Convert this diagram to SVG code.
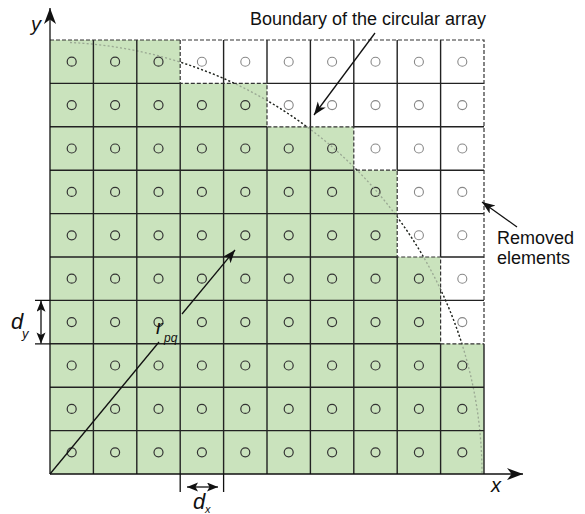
<svg xmlns="http://www.w3.org/2000/svg" width="585" height="514" viewBox="0 0 585 514">
<style>
.g rect{fill:#cae3bd;stroke:none}
.w rect{fill:#ffffff;stroke:none}
.g circle{fill:none;stroke:#333;stroke-width:1.2}
.w circle{fill:none;stroke:#888;stroke-width:1.1}
.grid{fill:none;stroke:#222;stroke-width:1.4}
.dash{fill:none;stroke:#333;stroke-width:1.2;stroke-dasharray:4 2}
.arc{fill:none;stroke-width:1.3;stroke-dasharray:2 2.2}
.ln{fill:none;stroke:#111;stroke-width:1.3}
.t{font-family:"Liberation Sans",Arial,sans-serif;fill:#111}
.i{font-family:"Liberation Sans",Arial,sans-serif;font-style:italic;fill:#111}
</style>
<defs>
<marker id="ah" markerUnits="userSpaceOnUse" markerWidth="17" markerHeight="13" refX="16" refY="6" orient="auto"><path d="M0,0 L16,6 L0,12 L4.5,6 Z" fill="#111"/></marker>
<marker id="ah2" markerUnits="userSpaceOnUse" markerWidth="14" markerHeight="11" refX="13" refY="5" orient="auto"><path d="M0,0 L13,5 L0,10 L3.5,5 Z" fill="#111"/></marker>
<marker id="ah3" markerUnits="userSpaceOnUse" markerWidth="12" markerHeight="10" refX="11" refY="4.5" orient="auto-start-reverse"><path d="M0,0 L11,4.5 L0,9 L2.5,4.5 Z" fill="#111"/></marker>
<clipPath id="wclip"><path d="M180.2,40 H484 V343.8 H440.6 V257 H397.2 V170.2 H353.8 V126.8 H267 V83.4 H180.2 Z"/></clipPath>
</defs>

<g id="cells">
<g id="c0-0" class="g"><rect x="50" y="40" width="43.4" height="43.4"/><circle cx="71.7" cy="61.7" r="4.5"/></g>
<g id="c0-1" class="g"><rect x="93.4" y="40" width="43.4" height="43.4"/><circle cx="115.1" cy="61.7" r="4.5"/></g>
<g id="c0-2" class="g"><rect x="136.8" y="40" width="43.4" height="43.4"/><circle cx="158.5" cy="61.7" r="4.5"/></g>
<g id="c0-3" class="w"><rect x="180.2" y="40" width="43.4" height="43.4"/><circle cx="201.9" cy="61.7" r="4.5"/></g>
<g id="c0-4" class="w"><rect x="223.6" y="40" width="43.4" height="43.4"/><circle cx="245.3" cy="61.7" r="4.5"/></g>
<g id="c0-5" class="w"><rect x="267" y="40" width="43.4" height="43.4"/><circle cx="288.7" cy="61.7" r="4.5"/></g>
<g id="c0-6" class="w"><rect x="310.4" y="40" width="43.4" height="43.4"/><circle cx="332.1" cy="61.7" r="4.5"/></g>
<g id="c0-7" class="w"><rect x="353.8" y="40" width="43.4" height="43.4"/><circle cx="375.5" cy="61.7" r="4.5"/></g>
<g id="c0-8" class="w"><rect x="397.2" y="40" width="43.4" height="43.4"/><circle cx="418.9" cy="61.7" r="4.5"/></g>
<g id="c0-9" class="w"><rect x="440.6" y="40" width="43.4" height="43.4"/><circle cx="462.3" cy="61.7" r="4.5"/></g>

<g id="c1-0" class="g"><rect x="50" y="83.4" width="43.4" height="43.4"/><circle cx="71.7" cy="105.1" r="4.5"/></g>
<g id="c1-1" class="g"><rect x="93.4" y="83.4" width="43.4" height="43.4"/><circle cx="115.1" cy="105.1" r="4.5"/></g>
<g id="c1-2" class="g"><rect x="136.8" y="83.4" width="43.4" height="43.4"/><circle cx="158.5" cy="105.1" r="4.5"/></g>
<g id="c1-3" class="g"><rect x="180.2" y="83.4" width="43.4" height="43.4"/><circle cx="201.9" cy="105.1" r="4.5"/></g>
<g id="c1-4" class="g"><rect x="223.6" y="83.4" width="43.4" height="43.4"/><circle cx="245.3" cy="105.1" r="4.5"/></g>
<g id="c1-5" class="w"><rect x="267" y="83.4" width="43.4" height="43.4"/><circle cx="288.7" cy="105.1" r="4.5"/></g>
<g id="c1-6" class="w"><rect x="310.4" y="83.4" width="43.4" height="43.4"/><circle cx="332.1" cy="105.1" r="4.5"/></g>
<g id="c1-7" class="w"><rect x="353.8" y="83.4" width="43.4" height="43.4"/><circle cx="375.5" cy="105.1" r="4.5"/></g>
<g id="c1-8" class="w"><rect x="397.2" y="83.4" width="43.4" height="43.4"/><circle cx="418.9" cy="105.1" r="4.5"/></g>
<g id="c1-9" class="w"><rect x="440.6" y="83.4" width="43.4" height="43.4"/><circle cx="462.3" cy="105.1" r="4.5"/></g>

<g id="c2-0" class="g"><rect x="50" y="126.8" width="43.4" height="43.4"/><circle cx="71.7" cy="148.5" r="4.5"/></g>
<g id="c2-1" class="g"><rect x="93.4" y="126.8" width="43.4" height="43.4"/><circle cx="115.1" cy="148.5" r="4.5"/></g>
<g id="c2-2" class="g"><rect x="136.8" y="126.8" width="43.4" height="43.4"/><circle cx="158.5" cy="148.5" r="4.5"/></g>
<g id="c2-3" class="g"><rect x="180.2" y="126.8" width="43.4" height="43.4"/><circle cx="201.9" cy="148.5" r="4.5"/></g>
<g id="c2-4" class="g"><rect x="223.6" y="126.8" width="43.4" height="43.4"/><circle cx="245.3" cy="148.5" r="4.5"/></g>
<g id="c2-5" class="g"><rect x="267" y="126.8" width="43.4" height="43.4"/><circle cx="288.7" cy="148.5" r="4.5"/></g>
<g id="c2-6" class="g"><rect x="310.4" y="126.8" width="43.4" height="43.4"/><circle cx="332.1" cy="148.5" r="4.5"/></g>
<g id="c2-7" class="w"><rect x="353.8" y="126.8" width="43.4" height="43.4"/><circle cx="375.5" cy="148.5" r="4.5"/></g>
<g id="c2-8" class="w"><rect x="397.2" y="126.8" width="43.4" height="43.4"/><circle cx="418.9" cy="148.5" r="4.5"/></g>
<g id="c2-9" class="w"><rect x="440.6" y="126.8" width="43.4" height="43.4"/><circle cx="462.3" cy="148.5" r="4.5"/></g>

<g id="c3-0" class="g"><rect x="50" y="170.2" width="43.4" height="43.4"/><circle cx="71.7" cy="191.9" r="4.5"/></g>
<g id="c3-1" class="g"><rect x="93.4" y="170.2" width="43.4" height="43.4"/><circle cx="115.1" cy="191.9" r="4.5"/></g>
<g id="c3-2" class="g"><rect x="136.8" y="170.2" width="43.4" height="43.4"/><circle cx="158.5" cy="191.9" r="4.5"/></g>
<g id="c3-3" class="g"><rect x="180.2" y="170.2" width="43.4" height="43.4"/><circle cx="201.9" cy="191.9" r="4.5"/></g>
<g id="c3-4" class="g"><rect x="223.6" y="170.2" width="43.4" height="43.4"/><circle cx="245.3" cy="191.9" r="4.5"/></g>
<g id="c3-5" class="g"><rect x="267" y="170.2" width="43.4" height="43.4"/><circle cx="288.7" cy="191.9" r="4.5"/></g>
<g id="c3-6" class="g"><rect x="310.4" y="170.2" width="43.4" height="43.4"/><circle cx="332.1" cy="191.9" r="4.5"/></g>
<g id="c3-7" class="g"><rect x="353.8" y="170.2" width="43.4" height="43.4"/><circle cx="375.5" cy="191.9" r="4.5"/></g>
<g id="c3-8" class="w"><rect x="397.2" y="170.2" width="43.4" height="43.4"/><circle cx="418.9" cy="191.9" r="4.5"/></g>
<g id="c3-9" class="w"><rect x="440.6" y="170.2" width="43.4" height="43.4"/><circle cx="462.3" cy="191.9" r="4.5"/></g>

<g id="c4-0" class="g"><rect x="50" y="213.6" width="43.4" height="43.4"/><circle cx="71.7" cy="235.3" r="4.5"/></g>
<g id="c4-1" class="g"><rect x="93.4" y="213.6" width="43.4" height="43.4"/><circle cx="115.1" cy="235.3" r="4.5"/></g>
<g id="c4-2" class="g"><rect x="136.8" y="213.6" width="43.4" height="43.4"/><circle cx="158.5" cy="235.3" r="4.5"/></g>
<g id="c4-3" class="g"><rect x="180.2" y="213.6" width="43.4" height="43.4"/><circle cx="201.9" cy="235.3" r="4.5"/></g>
<g id="c4-4" class="g"><rect x="223.6" y="213.6" width="43.4" height="43.4"/><circle cx="245.3" cy="235.3" r="4.5"/></g>
<g id="c4-5" class="g"><rect x="267" y="213.6" width="43.4" height="43.4"/><circle cx="288.7" cy="235.3" r="4.5"/></g>
<g id="c4-6" class="g"><rect x="310.4" y="213.6" width="43.4" height="43.4"/><circle cx="332.1" cy="235.3" r="4.5"/></g>
<g id="c4-7" class="g"><rect x="353.8" y="213.6" width="43.4" height="43.4"/><circle cx="375.5" cy="235.3" r="4.5"/></g>
<g id="c4-8" class="w"><rect x="397.2" y="213.6" width="43.4" height="43.4"/><circle cx="418.9" cy="235.3" r="4.5"/></g>
<g id="c4-9" class="w"><rect x="440.6" y="213.6" width="43.4" height="43.4"/><circle cx="462.3" cy="235.3" r="4.5"/></g>

<g id="c5-0" class="g"><rect x="50" y="257" width="43.4" height="43.4"/><circle cx="71.7" cy="278.7" r="4.5"/></g>
<g id="c5-1" class="g"><rect x="93.4" y="257" width="43.4" height="43.4"/><circle cx="115.1" cy="278.7" r="4.5"/></g>
<g id="c5-2" class="g"><rect x="136.8" y="257" width="43.4" height="43.4"/><circle cx="158.5" cy="278.7" r="4.5"/></g>
<g id="c5-3" class="g"><rect x="180.2" y="257" width="43.4" height="43.4"/><circle cx="201.9" cy="278.7" r="4.5"/></g>
<g id="c5-4" class="g"><rect x="223.6" y="257" width="43.4" height="43.4"/><circle cx="245.3" cy="278.7" r="4.5"/></g>
<g id="c5-5" class="g"><rect x="267" y="257" width="43.4" height="43.4"/><circle cx="288.7" cy="278.7" r="4.5"/></g>
<g id="c5-6" class="g"><rect x="310.4" y="257" width="43.4" height="43.4"/><circle cx="332.1" cy="278.7" r="4.5"/></g>
<g id="c5-7" class="g"><rect x="353.8" y="257" width="43.4" height="43.4"/><circle cx="375.5" cy="278.7" r="4.5"/></g>
<g id="c5-8" class="g"><rect x="397.2" y="257" width="43.4" height="43.4"/><circle cx="418.9" cy="278.7" r="4.5"/></g>
<g id="c5-9" class="w"><rect x="440.6" y="257" width="43.4" height="43.4"/><circle cx="462.3" cy="278.7" r="4.5"/></g>

<g id="c6-0" class="g"><rect x="50" y="300.4" width="43.4" height="43.4"/><circle cx="71.7" cy="322.1" r="4.5"/></g>
<g id="c6-1" class="g"><rect x="93.4" y="300.4" width="43.4" height="43.4"/><circle cx="115.1" cy="322.1" r="4.5"/></g>
<g id="c6-2" class="g"><rect x="136.8" y="300.4" width="43.4" height="43.4"/><circle cx="158.5" cy="322.1" r="4.5"/></g>
<g id="c6-3" class="g"><rect x="180.2" y="300.4" width="43.4" height="43.4"/><circle cx="201.9" cy="322.1" r="4.5"/></g>
<g id="c6-4" class="g"><rect x="223.6" y="300.4" width="43.4" height="43.4"/><circle cx="245.3" cy="322.1" r="4.5"/></g>
<g id="c6-5" class="g"><rect x="267" y="300.4" width="43.4" height="43.4"/><circle cx="288.7" cy="322.1" r="4.5"/></g>
<g id="c6-6" class="g"><rect x="310.4" y="300.4" width="43.4" height="43.4"/><circle cx="332.1" cy="322.1" r="4.5"/></g>
<g id="c6-7" class="g"><rect x="353.8" y="300.4" width="43.4" height="43.4"/><circle cx="375.5" cy="322.1" r="4.5"/></g>
<g id="c6-8" class="g"><rect x="397.2" y="300.4" width="43.4" height="43.4"/><circle cx="418.9" cy="322.1" r="4.5"/></g>
<g id="c6-9" class="w"><rect x="440.6" y="300.4" width="43.4" height="43.4"/><circle cx="462.3" cy="322.1" r="4.5"/></g>

<g id="c7-0" class="g"><rect x="50" y="343.8" width="43.4" height="43.4"/><circle cx="71.7" cy="365.5" r="4.5"/></g>
<g id="c7-1" class="g"><rect x="93.4" y="343.8" width="43.4" height="43.4"/><circle cx="115.1" cy="365.5" r="4.5"/></g>
<g id="c7-2" class="g"><rect x="136.8" y="343.8" width="43.4" height="43.4"/><circle cx="158.5" cy="365.5" r="4.5"/></g>
<g id="c7-3" class="g"><rect x="180.2" y="343.8" width="43.4" height="43.4"/><circle cx="201.9" cy="365.5" r="4.5"/></g>
<g id="c7-4" class="g"><rect x="223.6" y="343.8" width="43.4" height="43.4"/><circle cx="245.3" cy="365.5" r="4.5"/></g>
<g id="c7-5" class="g"><rect x="267" y="343.8" width="43.4" height="43.4"/><circle cx="288.7" cy="365.5" r="4.5"/></g>
<g id="c7-6" class="g"><rect x="310.4" y="343.8" width="43.4" height="43.4"/><circle cx="332.1" cy="365.5" r="4.5"/></g>
<g id="c7-7" class="g"><rect x="353.8" y="343.8" width="43.4" height="43.4"/><circle cx="375.5" cy="365.5" r="4.5"/></g>
<g id="c7-8" class="g"><rect x="397.2" y="343.8" width="43.4" height="43.4"/><circle cx="418.9" cy="365.5" r="4.5"/></g>
<g id="c7-9" class="g"><rect x="440.6" y="343.8" width="43.4" height="43.4"/><circle cx="462.3" cy="365.5" r="4.5"/></g>

<g id="c8-0" class="g"><rect x="50" y="387.2" width="43.4" height="43.4"/><circle cx="71.7" cy="408.9" r="4.5"/></g>
<g id="c8-1" class="g"><rect x="93.4" y="387.2" width="43.4" height="43.4"/><circle cx="115.1" cy="408.9" r="4.5"/></g>
<g id="c8-2" class="g"><rect x="136.8" y="387.2" width="43.4" height="43.4"/><circle cx="158.5" cy="408.9" r="4.5"/></g>
<g id="c8-3" class="g"><rect x="180.2" y="387.2" width="43.4" height="43.4"/><circle cx="201.9" cy="408.9" r="4.5"/></g>
<g id="c8-4" class="g"><rect x="223.6" y="387.2" width="43.4" height="43.4"/><circle cx="245.3" cy="408.9" r="4.5"/></g>
<g id="c8-5" class="g"><rect x="267" y="387.2" width="43.4" height="43.4"/><circle cx="288.7" cy="408.9" r="4.5"/></g>
<g id="c8-6" class="g"><rect x="310.4" y="387.2" width="43.4" height="43.4"/><circle cx="332.1" cy="408.9" r="4.5"/></g>
<g id="c8-7" class="g"><rect x="353.8" y="387.2" width="43.4" height="43.4"/><circle cx="375.5" cy="408.9" r="4.5"/></g>
<g id="c8-8" class="g"><rect x="397.2" y="387.2" width="43.4" height="43.4"/><circle cx="418.9" cy="408.9" r="4.5"/></g>
<g id="c8-9" class="g"><rect x="440.6" y="387.2" width="43.4" height="43.4"/><circle cx="462.3" cy="408.9" r="4.5"/></g>

<g id="c9-0" class="g"><rect x="50" y="430.6" width="43.4" height="43.4"/><circle cx="71.7" cy="452.3" r="4.5"/></g>
<g id="c9-1" class="g"><rect x="93.4" y="430.6" width="43.4" height="43.4"/><circle cx="115.1" cy="452.3" r="4.5"/></g>
<g id="c9-2" class="g"><rect x="136.8" y="430.6" width="43.4" height="43.4"/><circle cx="158.5" cy="452.3" r="4.5"/></g>
<g id="c9-3" class="g"><rect x="180.2" y="430.6" width="43.4" height="43.4"/><circle cx="201.9" cy="452.3" r="4.5"/></g>
<g id="c9-4" class="g"><rect x="223.6" y="430.6" width="43.4" height="43.4"/><circle cx="245.3" cy="452.3" r="4.5"/></g>
<g id="c9-5" class="g"><rect x="267" y="430.6" width="43.4" height="43.4"/><circle cx="288.7" cy="452.3" r="4.5"/></g>
<g id="c9-6" class="g"><rect x="310.4" y="430.6" width="43.4" height="43.4"/><circle cx="332.1" cy="452.3" r="4.5"/></g>
<g id="c9-7" class="g"><rect x="353.8" y="430.6" width="43.4" height="43.4"/><circle cx="375.5" cy="452.3" r="4.5"/></g>
<g id="c9-8" class="g"><rect x="397.2" y="430.6" width="43.4" height="43.4"/><circle cx="418.9" cy="452.3" r="4.5"/></g>
<g id="c9-9" class="g"><rect x="440.6" y="430.6" width="43.4" height="43.4"/><circle cx="462.3" cy="452.3" r="4.5"/></g>
</g>

<g id="boundary-arc">
<path class="arc" stroke="#9aa893" d="M70,42.5 A432,432 0 0 1 482,474"/>
<path class="arc" stroke="#222" clip-path="url(#wclip)" d="M70,42.5 A432,432 0 0 1 482,474"/>
</g>

<g id="grid">
<path class="grid" d="M93.4,40 V474 M136.8,40 V474 M180.2,83.4 V474 M223.6,40 V474 M267,40 V83.4 M267,126.8 V474 M310.4,40 V474 M353.8,40 V126.8 M353.8,170.2 V474 M397.2,40 V170.2 M397.2,257 V474 M440.6,40 V257 M440.6,343.8 V474 M484,343.8 V474"/>
<path class="grid" d="M50,83.4 H180.2 M267,83.4 H484 M50,126.8 H267 M353.8,126.8 H484 M50,170.2 H353.8 M397.2,170.2 H484 M50,213.6 H484 M50,257 H397.2 M440.6,257 H484 M50,300.4 H484 M50,343.8 H440.6 M50,387.2 H484 M50,430.6 H484"/>
<path class="dash" d="M50,40 H484 V343.8"/>
<path class="dash" d="M180.2,40 V83.4 H267 V126.8 H353.8 V170.2 H397.2 V257 H440.6 V343.8 H484"/>
</g>

<g id="connectors">
<line id="y-axis" class="ln" x1="50" y1="474" x2="50" y2="8" marker-end="url(#ah)"/>
<line id="x-axis" class="ln" x1="50" y1="474" x2="523" y2="474" marker-end="url(#ah)"/>
<line id="rpq-a" class="ln" x1="50" y1="474" x2="159" y2="342"/>
<line id="rpq-b" class="ln" x1="182" y1="314" x2="235" y2="250" marker-end="url(#ah2)"/>
<line id="boundary-ptr" class="ln" x1="375" y1="33" x2="314" y2="115" marker-end="url(#ah2)"/>
<line id="removed-ptr" class="ln" x1="517" y1="227" x2="482" y2="202" marker-end="url(#ah2)"/>
<path class="ln" d="M35,300.4 H50 M35,343.8 H50"/>
<line id="dy-arrow" class="ln" x1="41" y1="300.8" x2="41" y2="343.4" marker-start="url(#ah3)" marker-end="url(#ah3)"/>
<path class="ln" d="M180.2,474 V492 M223.6,474 V492"/>
<line id="dx-arrow" class="ln" x1="187" y1="487" x2="218" y2="487" marker-start="url(#ah3)" marker-end="url(#ah3)"/>
</g>

<g id="labels">
<text class="t" x="250" y="25" font-size="18">Boundary of the circular array</text>
<text class="t" x="497" y="244" font-size="18">Removed</text>
<text class="t" x="497" y="264" font-size="18">elements</text>
<text class="i" x="31" y="31" font-size="20">y</text>
<text class="i" x="491" y="492" font-size="20">x</text>
<text class="i" x="11" y="329" font-size="22">d</text>
<text class="i" x="22" y="338" font-size="13">y</text>
<text class="i" x="156" y="334" font-size="20">r</text>
<text class="i" x="164" y="342" font-size="12">pq</text>
<text class="i" x="193" y="509" font-size="22">d</text>
<text class="i" x="205" y="513" font-size="11">x</text>
</g>
</svg>
